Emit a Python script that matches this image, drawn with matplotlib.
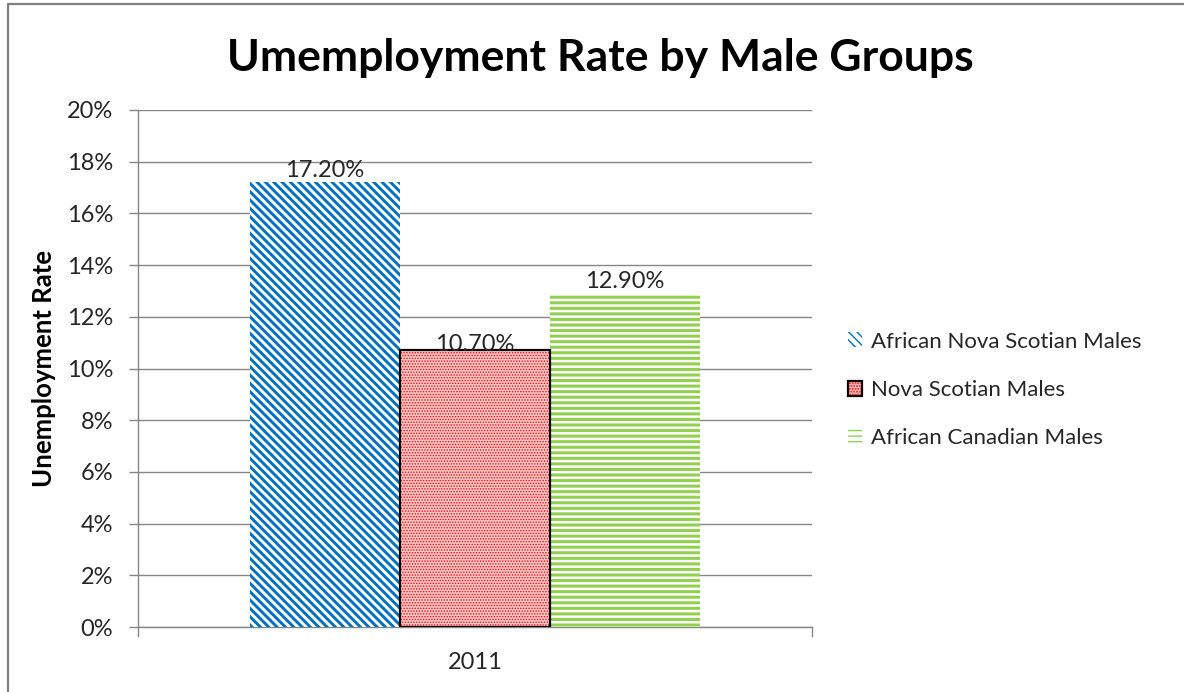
import matplotlib
matplotlib.use("Agg")
import matplotlib.pyplot as plt
from matplotlib.lines import Line2D
from matplotlib.ticker import FuncFormatter, FixedLocator
from matplotlib.legend_handler import HandlerTuple

# ---- data ----
title = "Umemployment Rate by Male Groups"
ylabel = "Unemployment Rate"
category = "2011"
series_names = ["African Nova Scotian Males", "Nova Scotian Males", "African Canadian Males"]
series_values = [17.20, 10.70, 12.90]
value_labels = ["17.20%", "10.70%", "12.90%"]
ytick_values = [0, 2, 4, 6, 8, 10, 12, 14, 16, 18, 20]

plt.rcParams['font.family'] = ['Lato', 'DejaVu Sans']

W, H = 1184, 692
fig = plt.figure(figsize=(W / 100, H / 100), dpi=100)
ax = fig.add_axes([138 / W, 1 - 627 / H, (812 - 138) / W, (627 - 110) / H])

grid_c = "#868686"
blue = "#0070C0"
red = "#FF0000"
green = "#92D050"

bar_w = 150 / 674
offsets = [-bar_w, 0.0, bar_w]

handles = []
# blue diagonal hatch
with plt.rc_context({'hatch.linewidth': 2.1}):
    b1 = ax.bar(offsets[0], series_values[0], width=bar_w, facecolor="white",
                edgecolor=blue, linewidth=0, hatch="\\\\\\\\", zorder=3)
handles.append(b1.patches[0])
# red dotted with black outline
with plt.rc_context({'hatch.linewidth': 0.7}):
    b2 = ax.bar(offsets[1], series_values[1], width=bar_w, facecolor="#F9CACA",
                edgecolor=red, linewidth=0, hatch="......", zorder=3)
b2o = ax.bar(offsets[1], series_values[1], width=bar_w, fill=False,
             edgecolor="black", linewidth=1.6, zorder=4)
handles.append((b2.patches[0], b2o.patches[0]))
# green horizontal hatch
with plt.rc_context({'hatch.linewidth': 2.2}):
    b3 = ax.bar(offsets[2], series_values[2], width=bar_w, facecolor="white",
                edgecolor=green, linewidth=0, hatch="---", zorder=3)
handles.append(b3.patches[0])

# value labels
label_pad_px = [1, -4.5, 2]
for x, v, t, p in zip(offsets, series_values, value_labels, label_pad_px):
    ax.annotate(t, (x, v), xytext=(0, p * 0.72), textcoords="offset points",
                ha="center", va="bottom", fontsize=17, color="#262626", zorder=5)

ax.set_xlim(-0.5, 0.5)
ax.set_ylim(0, 20)
ax.yaxis.set_major_locator(FixedLocator(ytick_values))
ax.yaxis.set_major_formatter(FuncFormatter(lambda v, p: f"{v:.0f}%"))
ax.tick_params(axis="y", direction="out", length=6.5, width=1, color=grid_c,
               labelsize=17, pad=11.5, labelcolor="#262626")
ax.set_xticks([0])
ax.set_xticklabels([category])
ax.tick_params(axis="x", length=0, labelsize=17, pad=18, labelcolor="#262626")
for xb in (-0.5, 0.5):
    ax.plot([xb, xb], [0, -0.35], color=grid_c, lw=1, clip_on=False, zorder=2)

ax.grid(axis="y", color=grid_c, linewidth=1.0, zorder=0)
ax.set_axisbelow(True)
for s in ("top", "right"):
    ax.spines[s].set_visible(False)
for s in ("left", "bottom"):
    ax.spines[s].set_color(grid_c)
    ax.spines[s].set_linewidth(1.0)

ax.set_ylabel(ylabel, fontsize=18.5, fontweight="bold", va="center", color="black")
ax.yaxis.set_label_coords((44 - 138) / 674, 0.5)

fig.text(600 / W, 1 - 58 / H, title, ha="center", va="center",
         fontsize=32, fontweight="bold", color="black")

leg = ax.legend(handles, series_names, loc="center left",
                bbox_to_anchor=(848 / W, 1 - 390 / H), bbox_transform=fig.transFigure,
                frameon=False, fontsize=16, handlelength=0.65, handleheight=0.65,
                handletextpad=0.37, labelspacing=1.28, borderpad=0, borderaxespad=0,
                handler_map={tuple: HandlerTuple(ndivide=1, pad=0)})
for t in leg.get_texts():
    t.set_color("#262626")

# chart frame border (left and top visible)
fig.add_artist(Line2D([8 / W, 8 / W, 1.0], [0.0, 1 - 4 / H, 1 - 4 / H],
                      transform=fig.transFigure, color="#808080", lw=1.6))

fig.savefig("out.png", dpi=100, facecolor="white")
